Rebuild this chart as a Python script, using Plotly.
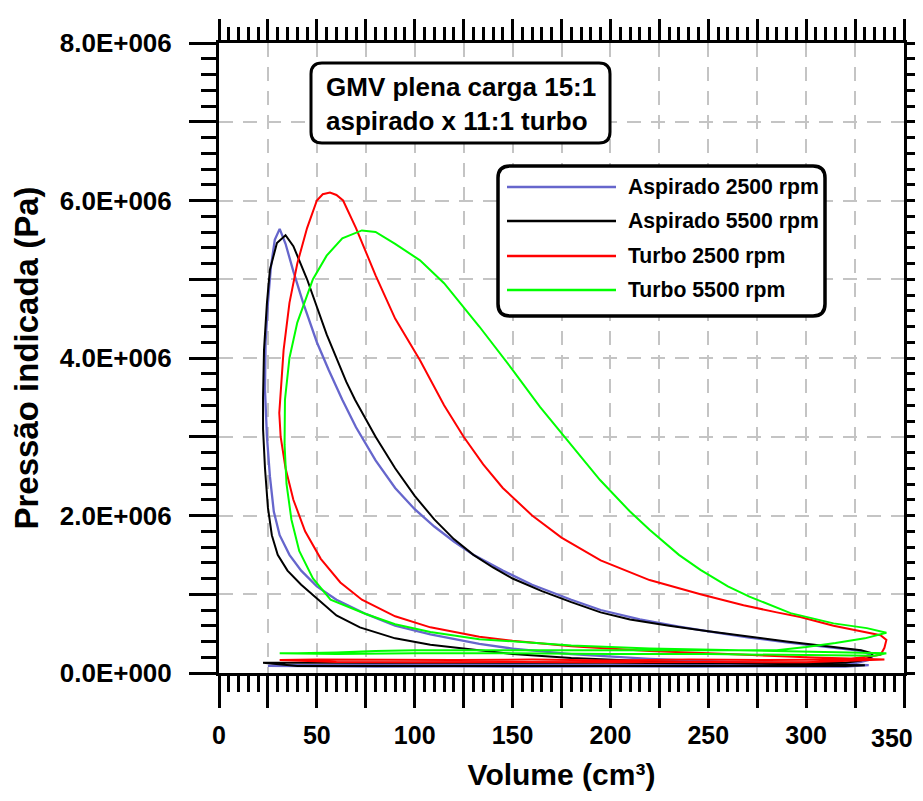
import plotly.graph_objects as go

# ---------------- data (V in cm3, P in MPa) ----------------
series_names = ["Aspirado 2500 rpm", "Aspirado 5500 rpm", "Turbo 2500 rpm", "Turbo 5500 rpm"]
series_colors = ["#6666CC", "#000000", "#FF0000", "#00FF00"]

# Aspirado 2500 rpm
asp2500_V = [332, 300, 260, 220, 180, 150, 133, 108, 90, 75, 60, 50, 42, 36, 31, 28, 26, 24.5, 23.5, 23.8, 25, 26.5, 28.5, 31,
             34, 38, 43, 50, 56, 63, 70, 80, 90, 100, 110, 120, 130, 145, 160, 180, 195, 215, 235, 255, 271, 290, 314, 328, 334, 333, 328,
             320, 280, 240, 200, 160, 120, 80, 50, 30, 25,
             40, 80, 120, 160, 200, 240, 280, 320, 332]
asp2500_P = [0.10, 0.115, 0.14, 0.18, 0.24, 0.31, 0.37, 0.49, 0.60, 0.75, 0.93, 1.10, 1.30, 1.50, 1.75, 2.05, 2.50, 3.00, 3.60, 4.20, 4.70, 5.15, 5.50, 5.64,
             5.45, 5.10, 4.70, 4.20, 3.85, 3.47, 3.12, 2.70, 2.35, 2.08, 1.86, 1.67, 1.50, 1.30, 1.12, 0.93, 0.80, 0.68, 0.59, 0.51, 0.45, 0.39, 0.32, 0.28, 0.22, 0.17, 0.14,
             0.11, 0.105, 0.11, 0.10, 0.11, 0.105, 0.11, 0.10, 0.10, 0.09,
             0.085, 0.08, 0.085, 0.08, 0.085, 0.08, 0.085, 0.08, 0.10]

# Aspirado 5500 rpm
asp5500_V = [330, 300, 260, 220, 180, 150, 133, 108, 90, 72, 60, 51, 42, 35, 30, 27, 25, 23.5, 22.5, 22.5, 23, 24.5, 26, 29.6, 34,
             38, 45, 55, 65, 69.5, 80, 90, 100, 110, 120, 130, 140, 150, 165, 180, 195, 210, 230, 250, 271, 290, 314, 328, 334, 333, 328,
             320, 280, 240, 200, 160, 120, 80, 50, 30, 22.5,
             40, 80, 120, 160, 200, 240, 280, 320, 330]
asp5500_P = [0.10, 0.11, 0.125, 0.15, 0.19, 0.24, 0.29, 0.36, 0.44, 0.58, 0.73, 0.93, 1.12, 1.30, 1.50, 1.75, 2.10, 2.60, 3.10, 3.50, 4.10, 4.70, 5.12, 5.46, 5.56,
             5.42, 5.00, 4.30, 3.70, 3.47, 3.00, 2.60, 2.25, 1.95, 1.70, 1.50, 1.34, 1.20, 1.04, 0.90, 0.77, 0.68, 0.60, 0.53, 0.46, 0.40, 0.33, 0.29, 0.25, 0.20, 0.16,
             0.13, 0.13, 0.125, 0.13, 0.13, 0.125, 0.13, 0.13, 0.13, 0.13,
             0.09, 0.09, 0.095, 0.09, 0.09, 0.095, 0.09, 0.09, 0.10]

# Turbo 2500 rpm
tur2500_V = [340, 300, 260, 220, 180, 150, 133, 108, 90, 73, 62, 52, 44, 38, 34, 31.5, 30.8, 31.2,
             33, 36, 40, 45, 50, 53, 56.7,
             60, 63.4, 70, 80, 90, 102.7, 115, 125, 135, 145, 160, 175, 195, 220, 246, 268, 285, 297, 314, 331, 338, 341, 340, 338,
             320, 280, 240, 200, 160, 120, 80, 50, 31,
             60, 100, 150, 200, 250, 300, 340]
tur2500_P = [0.17, 0.20, 0.24, 0.28, 0.34, 0.41, 0.46, 0.58, 0.72, 0.93, 1.15, 1.45, 1.80, 2.20, 2.60, 3.00, 3.30, 3.47,
             4.10, 4.70, 5.20, 5.65, 6.00, 6.08, 6.10,
             6.07, 6.00, 5.65, 5.05, 4.50, 3.97, 3.40, 3.00, 2.65, 2.35, 2.00, 1.72, 1.43, 1.18, 1.00, 0.86, 0.77, 0.71, 0.60, 0.52, 0.48, 0.42, 0.32, 0.23,
             0.17, 0.165, 0.17, 0.16, 0.17, 0.165, 0.17, 0.17, 0.165,
             0.14, 0.135, 0.14, 0.135, 0.14, 0.135, 0.17]

# Turbo 5500 rpm
tur5500_V = [341, 300, 260, 220, 180, 150, 133, 108, 90, 75, 57, 48, 41, 37, 34.5, 33.5, 33.7,
             36, 40, 48, 55, 63, 73,
             80, 90, 102.7, 115, 133, 150, 164, 180, 194.7, 210, 220, 235, 246, 260, 271, 292, 314, 331, 341,
             330, 315, 300, 285, 250, 200, 150, 100, 80, 60, 40, 31,
             60, 100, 150, 200, 250, 300, 335, 341]
tur5500_P = [0.25, 0.27, 0.29, 0.31, 0.35, 0.40, 0.43, 0.52, 0.62, 0.75, 0.93, 1.20, 1.55, 1.95, 2.40, 2.90, 3.47,
             4.00, 4.45, 5.00, 5.30, 5.52, 5.62,
             5.60, 5.45, 5.24, 4.95, 4.40, 3.85, 3.38, 2.90, 2.45, 2.05, 1.82, 1.50, 1.31, 1.10, 0.97, 0.76, 0.63, 0.57, 0.51,
             0.44, 0.38, 0.33, 0.29, 0.29, 0.29, 0.29, 0.29, 0.28, 0.26, 0.25, 0.25,
             0.24, 0.25, 0.25, 0.24, 0.24, 0.23, 0.22, 0.25]

volumes = [asp2500_V, asp5500_V, tur2500_V, tur5500_V]
pressures = [asp2500_P, asp5500_P, tur2500_P, tur5500_P]

x_tick_vals = list(range(0, 351, 25))
x_tick_text = [str(v) if (v % 50 == 0 and v < 350) else "" for v in x_tick_vals]
x_last_label = "350"
y_tick_vals = [i * 1e6 for i in range(0, 9)]
y_tick_text = ["0.0E+000", "", "2.0E+006", "", "4.0E+006", "", "6.0E+006", "", "8.0E+006"]

title_text = "GMV plena carga 15:1<br>aspirado x 11:1 turbo"
x_title = "Volume (cm³)"
y_title = "Pressão indicada (Pa)"

# ---------------- figure ----------------
OFF = 8  # page body margin
W, H = 923 - OFF, 801 - OFF
ML, MT = 219 - OFF, 43 - OFF
PW, PH = 685, 630
MR, MB = W - ML - PW, H - MT - PH
FONT = "Liberation Sans, Arial, sans-serif"


def fx(px):  # screen px -> paper
    return (px - OFF - ML) / PW


def fy(py):
    return (MT + PH - (py - OFF)) / PH


def rounded_rect(x0, y0, x1, y1, r):
    X0, X1 = fx(x0), fx(x1)
    Y0, Y1 = fy(y1), fy(y0)
    rx, ry = r / PW, r / PH
    return (f"M {X0+rx},{Y0} L {X1-rx},{Y0} Q {X1},{Y0} {X1},{Y0+ry} "
            f"L {X1},{Y1-ry} Q {X1},{Y1} {X1-rx},{Y1} L {X0+rx},{Y1} "
            f"Q {X0},{Y1} {X0},{Y1-ry} L {X0},{Y0+ry} Q {X0},{Y0} {X0+rx},{Y0} Z")


fig = go.Figure()
for i, (name, col, V, P) in enumerate(zip(series_names, series_colors, volumes, pressures)):
    on_top = (i == 3)
    fig.add_trace(go.Scatter(
        x=V, y=[p * 1e6 for p in P], mode="lines", name=name,
        line=dict(color=col, width=2.3 if i == 0 else 2),
        showlegend=False,
        xaxis="x2" if on_top else "x", yaxis="y2" if on_top else "y",
    ))

tickfont = dict(family=FONT, size=25, color="black", weight="bold")
grid_common = dict(showgrid=True, gridcolor="#c4c4c4", gridwidth=1.5, griddash="14px,10px")

fig.update_layout(
    width=W, height=H,
    margin=dict(l=ML, r=MR, t=MT, b=MB, autoexpand=False),
    paper_bgcolor="white", plot_bgcolor="white",
    xaxis=dict(range=[0, 350], tickmode="array", tickvals=x_tick_vals, ticktext=x_tick_text,
               ticks="outside", ticklen=32, tickwidth=3, tickcolor="black",
               minor=dict(dtick=5, tick0=0, ticks="outside", ticklen=16, tickwidth=3, tickcolor="black", showgrid=False),
               showline=True, linewidth=3, linecolor="black", zeroline=False,
               tickfont=tickfont, ticklabelstandoff=6, ticklabeloverflow="allow",
               title=dict(text=x_title, font=dict(family=FONT, size=30, color="black", weight="bold"), standoff=16),
               automargin=False, **grid_common),
    yaxis=dict(range=[0, 8e6], tickmode="array", tickvals=y_tick_vals, ticktext=y_tick_text,
               ticks="outside", ticklen=27, tickwidth=3, tickcolor="black",
               minor=dict(dtick=2e5, tick0=0, ticks="outside", ticklen=15, tickwidth=3, tickcolor="black", showgrid=False),
               showline=True, linewidth=3, linecolor="black", zeroline=False,
               tickfont=dict(family=FONT, size=26, color="black", weight="bold"), ticklabelstandoff=12,
               ticklabeloverflow="allow",
               title=dict(text=y_title, font=dict(family=FONT, size=33, color="black", weight="bold"), standoff=14),
               automargin=False, **grid_common),
    xaxis2=dict(range=[0, 350], overlaying="x", side="top", tickmode="array", tickvals=x_tick_vals,
                showticklabels=False, ticks="outside", ticklen=21, tickwidth=3, tickcolor="black",
                minor=dict(dtick=5, tick0=0, ticks="outside", ticklen=13, tickwidth=3, tickcolor="black", showgrid=False),
                showline=True, linewidth=3, linecolor="black", showgrid=False, zeroline=False, automargin=False),
    yaxis2=dict(range=[0, 8e6], overlaying="y", side="right", tickmode="array", tickvals=y_tick_vals,
                showticklabels=False, ticks="outside", ticklen=17, tickwidth=3, tickcolor="black",
                minor=dict(dtick=2e5, tick0=0, ticks="outside", ticklen=14, tickwidth=3, tickcolor="black", showgrid=False),
                showline=True, linewidth=3, linecolor="black", showgrid=False, zeroline=False, automargin=False),
)

shapes = []
annotations = []
# last x tick label, nudged left so it stays inside the page
annotations.append(dict(xref="paper", yref="paper", x=fx(892), y=fy(738), xanchor="center", yanchor="middle",
                        text=x_last_label, showarrow=False, font=tickfont))
# title box
shapes.append(dict(type="path", xref="paper", yref="paper", path=rounded_rect(311, 63, 610, 143, 11),
                   line=dict(color="black", width=3), fillcolor="white", layer="above"))
annotations.append(dict(xref="paper", yref="paper", x=fx(461), y=fy(104), xanchor="center", yanchor="middle",
                        text=title_text, showarrow=False, align="left",
                        font=dict(family=FONT, size=26, color="black", weight="bold")))
# legend box
shapes.append(dict(type="path", xref="paper", yref="paper", path=rounded_rect(498, 166, 825, 316, 12),
                   line=dict(color="black", width=3.5), fillcolor="white", layer="above"))
row_y = [187, 221, 256, 290]
for name, col, ry in zip(series_names, series_colors, row_y):
    shapes.append(dict(type="line", xref="paper", yref="paper", x0=fx(507), x1=fx(616), y0=fy(ry), y1=fy(ry),
                       line=dict(color=col, width=2.5), layer="above"))
    annotations.append(dict(xref="paper", yref="paper", x=fx(626), y=fy(ry), xanchor="left", yanchor="middle",
                            text=name, showarrow=False,
                            font=dict(family=FONT, size=21.2, color="black", weight="bold")))

fig.update_layout(shapes=shapes, annotations=annotations)
fig.write_html("out.html")
